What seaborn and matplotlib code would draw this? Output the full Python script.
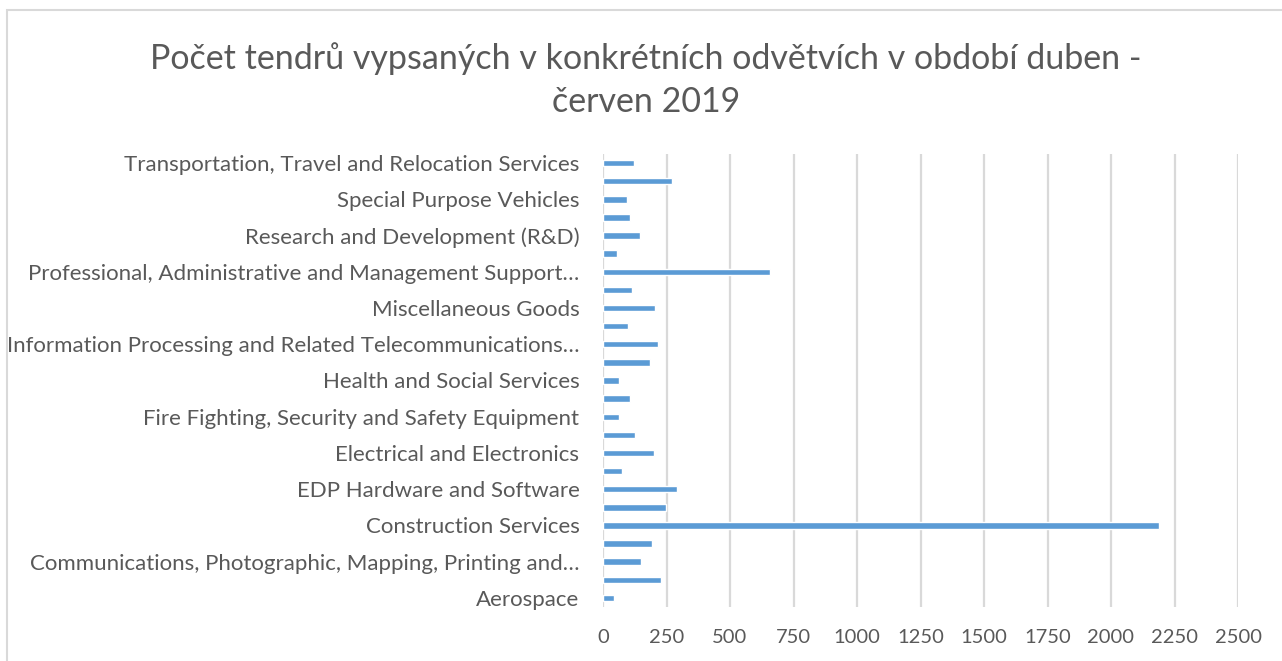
import matplotlib
matplotlib.use("Agg")
import matplotlib.pyplot as plt
import seaborn as sns
import pandas as pd
from matplotlib.patches import Rectangle

# Categories from bottom (Aerospace) to top (Transportation)
categories = [
    "Aerospace",
    "Armament",
    "Communications, Photographic, Mapping, Printing and…",
    "Construction Products",
    "Construction Services",
    "Custodial Operations and Related Services",
    "EDP Hardware and Software",
    "Educational and Training Services",
    "Electrical and Electronics",
    "Energy",
    "Fire Fighting, Security and Safety Equipment",
    "Furniture",
    "Health and Social Services",
    "Industrial Equipment",
    "Information Processing and Related Telecommunications…",
    "Medical Equipment and Supplies",
    "Miscellaneous Goods",
    "Office Equipment",
    "Professional, Administrative and Management Support…",
    "Quality Control, Testing, Inspection and Technical…",
    "Research and Development (R&D)",
    "Ships and Marine Equipment",
    "Special Purpose Vehicles",
    "Textiles and Apparel",
    "Transportation, Travel and Relocation Services",
]
values = [43, 228, 148, 194, 2190, 247, 290, 76, 202, 126,
          62, 105, 63, 186, 215, 100, 204, 113, 659, 55,
          147, 108, 93, 270, 121]
x_ticks = [0, 250, 500, 750, 1000, 1250, 1500, 1750, 2000, 2250, 2500]
title = "Počet tendrů vypsaných v konkrétních odvětvích v období duben -\nčerven 2019"

df = pd.DataFrame({"category": categories, "count": values})
order = categories[::-1]  # top to bottom

sns.set_style("white")
plt.rcParams["font.family"] = ["Lato", "DejaVu Sans"]

fig = plt.figure(figsize=(12.82, 6.61), dpi=100)
ax = fig.add_axes([603/1282, 1-607/661, (1238-603)/1282, (607-154)/661])

sns.barplot(data=df, y="category", x="count", order=order, orient="h",
            color="#5B9BD5", saturation=1, width=0.355, ax=ax, zorder=3)

ax.set_xlim(0, 2500)
ax.set_ylim(len(categories) - 0.5, -0.5)
ax.set_xticks(x_ticks)
ax.set_xticklabels([str(t) for t in x_ticks])
ax.grid(axis="x", color="#D9D9D9", linewidth=1.6, zorder=0)
ax.grid(axis="y", visible=False)
for s in ax.spines.values():
    s.set_visible(False)

# show every other category label (as Excel does)
pos = list(range(len(order)))
shown = [p for p in pos if (len(order) - 1 - p) % 2 == 0]
ax.set_yticks(shown)
ax.set_yticklabels([order[p] for p in shown])
ax.tick_params(axis="y", length=0, pad=17, labelsize=16, labelcolor="#595959")
ax.tick_params(axis="x", length=0, pad=16, labelsize=14.5, labelcolor="#595959")
ax.set_xlabel("")
ax.set_ylabel("")

fig.text(646/1282, 1-80/661, title, ha="center", va="center", fontsize=24.5,
         color="#595959", linespacing=1.4)

fig.patches.append(Rectangle((7/1282, -0.1), 1.2, 1-10/661 + 0.1,
                             transform=fig.transFigure, fill=False,
                             edgecolor="#D9D9D9", linewidth=1.5))

fig.savefig("out.png", dpi=100)
